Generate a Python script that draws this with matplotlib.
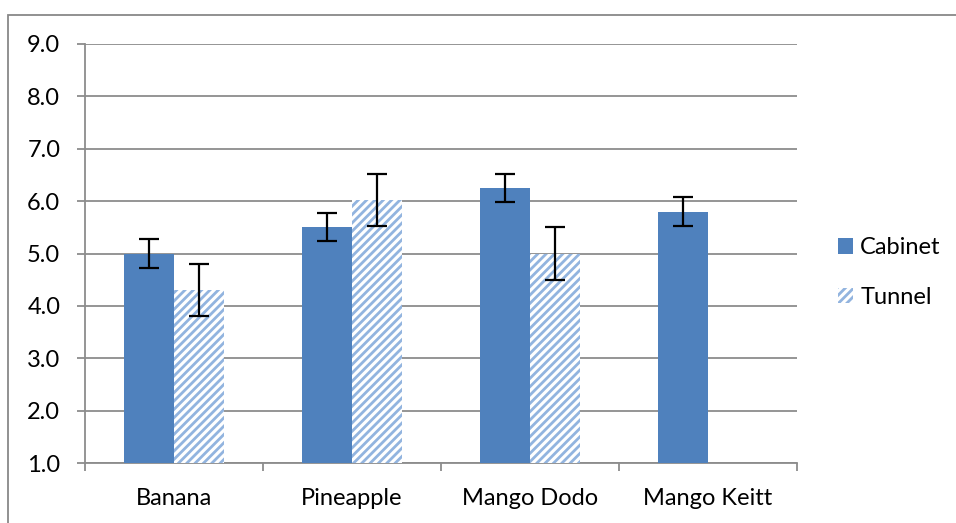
import matplotlib
matplotlib.use("Agg")
import matplotlib.pyplot as plt
import numpy as np
from matplotlib.patches import Rectangle, Patch

plt.rcParams['hatch.linewidth'] = 2.0
plt.rcParams['hatch.color'] = '#92B4DF'
plt.rcParams['font.family'] = ['Lato', 'DejaVu Sans']

categories = ["Banana", "Pineapple", "Mango Dodo", "Mango Keitt"]
cabinet = [5.0, 5.5, 6.25, 5.8]
cabinet_err = [0.27, 0.27, 0.27, 0.27]
tunnel = [4.3, 6.02, 5.0, np.nan]
tunnel_err = [0.5, 0.5, 0.5, np.nan]
yticks = [1.0, 2.0, 3.0, 4.0, 5.0, 6.0, 7.0, 8.0, 9.0]

W, H = 956, 523
FS = 17
fig = plt.figure(figsize=(W/100, H/100), dpi=100)
fig.patches.append(Rectangle((8/W, -0.1), 1.1, 1.1 - 15/H, transform=fig.transFigure,
                             fill=False, edgecolor='#888888', linewidth=1.3))
ax = fig.add_axes([85/W, 1-463/H, (797-85)/W, (463-44)/H])

x = np.arange(len(categories))
bw = 0.28
base = 1.0
cab_h = [v - base for v in cabinet]
tun_h = [v - base if not np.isnan(v) else 0 for v in tunnel]
ax.bar(x - bw/2, cab_h, bw, bottom=base, color='#4F81BD', zorder=3, label='Cabinet')
ax.bar(x + bw/2, tun_h, bw, bottom=base, color='white', edgecolor='#92B4DF', hatch='////',
       linewidth=0, zorder=3, label='Tunnel')
ax.errorbar(x - bw/2, cabinet, yerr=cabinet_err, fmt='none', ecolor='black', elinewidth=1.6,
            capsize=7, capthick=1.6, zorder=4)
ax.errorbar(x + bw/2, tunnel, yerr=tunnel_err, fmt='none', ecolor='black', elinewidth=1.6,
            capsize=7, capthick=1.6, zorder=4)

ax.set_xlim(-0.5, len(categories) - 0.5)
ax.set_ylim(1.0, 9.0)
ax.set_yticks(yticks)
ax.set_yticklabels([f"{t:.1f}" for t in yticks], fontsize=FS)
ax.yaxis.grid(True, color='#8C8C8C', linewidth=1.3, zorder=0)
ax.set_axisbelow(True)
ax.set_xticks(x)
ax.set_xticklabels(categories, fontsize=FS)
ax.set_xticks(np.arange(len(categories) + 1) - 0.5, minor=True)
ax.tick_params(axis='x', which='major', length=0, pad=18)
ax.tick_params(axis='x', which='minor', length=5.8, width=1.3, color='#8C8C8C')
ax.tick_params(axis='y', length=5.8, width=1.3, color='#8C8C8C', pad=12)
for s in ['top', 'right']:
    ax.spines[s].set_visible(False)
for s in ['left', 'bottom']:
    ax.spines[s].set_color('#8C8C8C')
    ax.spines[s].set_linewidth(1.3)

handles = [Patch(facecolor='#4F81BD', label='Cabinet'),
           Patch(facecolor='white', edgecolor='#92B4DF', hatch='////', linewidth=0, label='Tunnel')]
fig.legend(handles=handles, loc='center left', bbox_to_anchor=(838/W, 1-272.5/H), frameon=False,
           fontsize=FS, handlelength=0.64, handleheight=0.64, handletextpad=0.3, labelspacing=1.2,
           borderpad=0, borderaxespad=0)

fig.savefig("out.png", dpi=100)
